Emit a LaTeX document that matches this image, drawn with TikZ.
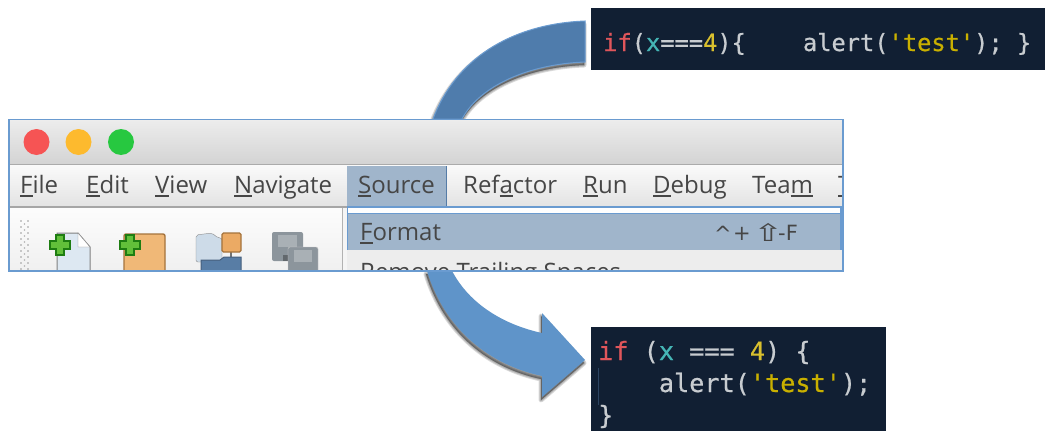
\documentclass[tikz,border=0pt]{standalone}
\usepackage{fontspec}
\setmainfont{Open Sans}
\newfontfamily\mono[RawFeature={embolden=0.6}]{DejaVu Sans Mono}
\newfontfamily\dejavu{DejaVu Sans}
\definecolor{panel}{HTML}{111F33}
\definecolor{cred}{HTML}{E0565B}
\definecolor{ccyan}{HTML}{45B5B5}
\definecolor{cnum}{HTML}{D9C02E}
\definecolor{cstr}{HTML}{C9B000}
\definecolor{cpl}{HTML}{C8CCD0}
\definecolor{edge}{HTML}{6A9BD0}
\definecolor{menuc}{HTML}{464646}
\definecolor{hilite}{HTML}{A0B5CB}
\definecolor{plusfill}{HTML}{62C03A}
\definecolor{plusedge}{HTML}{1E7D12}
\definecolor{floppy}{HTML}{8C959C}
\definecolor{floppyl}{HTML}{A9B0B5}
\newcommand\ulx[1]{\leavevmode\setbox0\hbox{#1}\rlap{\color{menuc}\rule[-4pt]{\wd0}{1.6pt}}\box0}
\newcommand\arrowA{(585,21) .. controls (510,24) and (455,60) .. (433,119) -- (462,119) .. controls (480,85) and (530,64) .. (585,62) -- cycle}
\newcommand\arrowB{(427,271) .. controls (445,330) and (490,365) .. (542,376) -- (542,397) -- (585,360) -- (542,313) -- (542,333) .. controls (505,325) and (470,305) .. (452,271) -- cycle}
\newcommand\softshadow[1]{%
  \foreach \w in {5,3,1}{\fill[black,opacity=.15,draw=black,line width=\w pt,line join=round,xshift=-1pt,yshift=-3pt] #1;}}
\tikzset{
  menuitem/.style={anchor=base west,inner sep=0pt,text=menuc,font=\fontsize{24}{24}\selectfont},
  codeA/.style={anchor=base west,inner sep=0pt,font=\mono\fontsize{23.7}{24}\selectfont,text=cpl},
  codeB/.style={anchor=base west,inner sep=0pt,font=\mono\fontsize{25.2}{26}\selectfont,text=cpl},
  plus/.style={fill=plusfill,draw=plusedge,line width=1.3pt,line join=miter},
  light/.style={circle,inner sep=0pt,minimum size=26pt}
}
\begin{document}
\begin{tikzpicture}[x=1pt,y=-1pt]
\useasboundingbox (0,0) rectangle (1045,431);
\fill[white] (0,0) rectangle (1045,431);
% arrows
\softshadow{\arrowA}
\fill[fill={rgb,255:red,79;green,124;blue,172},draw=edge,line width=1pt] \arrowA;
\softshadow{\arrowB}
\fill[fill={rgb,255:red,95;green,148;blue,201}] \arrowB;
% code panels
\fill[panel] (591,8) rectangle (1045,70);
\node[codeA] (codetop) at (603,51) {\textcolor{cred}{if}(\textcolor{ccyan}{x}===\textcolor{cnum}{4})\{\ \ \ \ alert(\textcolor{cstr}{'test'});\ \}};
\fill[panel] (591,327) rectangle (886,431);
\draw[color=panel!70!edge,line width=.8pt] (598,368) -- (598,405);
\node[codeB] (codeb1) at (598,360) {\textcolor{cred}{if}\ (\textcolor{ccyan}{x}\ ===\ \textcolor{cnum}{4})\ \{};
\node[codeB] (codeb2) at (598,392) {\ \ \ \ alert(\textcolor{cstr}{'test'});};
\node[codeB] (codeb3) at (598,424) {\}};
% window
\begin{scope}
\clip (9,119) rectangle (843,271);
\shade[top color=black!7,bottom color=black!17] (9,119) rectangle (843,164);
\draw[black!33,line width=1pt] (9,164.5) -- (843,164.5);
\shade[top color=black!2,bottom color=black!11] (9,165) rectangle (843,207);
\draw[black!35,line width=1.2pt] (9,207) -- (347,207);
\shade[top color=black!1,bottom color=black!6] (9,208) rectangle (342,271);
\draw[black!30,line width=1pt] (342.5,208) -- (342.5,271);
\fill[white!96!black] (343,208) rectangle (347,271);
\node[light,fill={rgb,255:red,246;green,84;blue,84}] (close) at (36.5,142) {};
\node[light,fill={rgb,255:red,253;green,186;blue,46}] (minim) at (78.5,142) {};
\node[light,fill={rgb,255:red,39;green,200;blue,64}] (zoom) at (121,142) {};
% menu items
\node[menuitem] (mfile) at (20,193) {\ulx{F}ile};
\node[menuitem] (medit) at (86,193) {\ulx{E}dit};
\node[menuitem] (mview) at (155,193) {\ulx{V}iew};
\node[menuitem] (mnav) at (234,193) {\ulx{N}avigate};
\fill[hilite] (347,166) rectangle (446,206);
\draw[edge!80!black,line width=.7pt] (446,166) -- (446,206);
\node[menuitem] (msource) at (358,193) {\ulx{S}ource};
\node[menuitem] (mrefactor) at (463,193) {Ref\ulx{a}ctor};
\node[menuitem] (mrun) at (583,193) {\ulx{R}un};
\node[menuitem] (mdebug) at (653,193) {\ulx{D}ebug};
\node[menuitem] (mteam) at (752,193) {Tea\ulx{m}};
\node[menuitem] (mtools) at (838,193) {\ulx{T}ools};
% dropdown
\fill[white] (347,207) rectangle (843,214);
\fill[black!7] (347,250) rectangle (843,271);
\fill[hilite] (347,214) rectangle (843,250);
\draw[edge,line width=1.2pt] (347,207) -- (843,207);
\draw[edge,line width=1.2pt] (347,213.5) -- (843,213.5);
\draw[edge,line width=1.2pt] (347.5,207) -- (347.5,250);
\draw[edge,line width=1.2pt] (841,207) -- (841,250);
\node[menuitem] (mformat) at (360,240) {\ulx{F}ormat};
\node[menuitem,font=\dejavu\fontsize{21}{21}\selectfont] (mcaret) at (714,241) {\char"005E};
\node[menuitem,font=\dejavu\fontsize{21}{21}\selectfont] (mplus) at (733,240) {+};
\node[menuitem,font=\dejavu\fontsize{24}{24}\selectfont] (marrow) at (753,241) {\scalebox{1.5}[1]{\char"21E7}};
\node[menuitem,font=\dejavu\fontsize{21}{21}\selectfont] (mf) at (778,240) {-F};
\node[menuitem,font=\fontsize{24}{24}\selectfont] (mremove) at (360,280) {Remove Trailing Spaces};
% toolbar grip
\foreach \yy in {221,227,...,269}{
  \fill[black!40] (21,\yy) circle (.9);
  \fill[black!40] (28,\yy) circle (.9);
  \fill[black!30] (24.5,\yy+3) circle (.9);
}
% new file icon
\fill[fill={rgb,255:red,221;green,232;blue,242},draw=black!50,line width=1pt] (57,233) -- (78,233) -- (90,247) -- (90,275) -- (57,275) -- cycle;
\fill[white,draw=black!45] (78,233) -- (78,247) -- (90,247) -- cycle;
\fill[plus] (56,235) -- (64,235) -- (64,241) -- (70,241) -- (70,249) -- (64,249) -- (64,255) -- (56,255) -- (56,249) -- (50,249) -- (50,241) -- (56,241) -- cycle;
% new project icon
\fill[fill={rgb,255:red,240;green,184;blue,119},draw={rgb,255:red,165;green,115;blue,60},line width=1.4pt,rounded corners=2pt] (124,234) -- (165,234) -- (165,275) -- (124,275) -- cycle;
\fill[plus] (126,235) -- (134,235) -- (134,241) -- (140,241) -- (140,249) -- (134,249) -- (134,255) -- (126,255) -- (126,249) -- (120,249) -- (120,241) -- (126,241) -- cycle;
% open project icon
\fill[fill={rgb,255:red,205;green,219;blue,232},draw=black!45,rounded corners=2pt] (196,262) -- (196,235) -- (212,233) -- (218,238) -- (222,238) -- (222,262) -- cycle;
\draw[black!55,line width=1.5pt] (231,250) -- (231,258);
\fill[fill={rgb,255:red,235;green,170;blue,100},draw={rgb,255:red,165;green,115;blue,60},line width=1.2pt,rounded corners=1.5pt] (222,233) rectangle (241,252);
\fill[fill={rgb,255:red,88;green,125;blue,165},draw={rgb,255:red,70;green,95;blue,125},line width=1pt] (201,275) -- (201,260) -- (220,260) -- (224,257) -- (241,257) -- (241,275) -- cycle;
% save all icon
\fill[floppy,rounded corners=2pt] (272,232) rectangle (303,261);
\fill[floppyl] (278,235) rectangle (297,247);
\fill[floppy!70!black] (283,255) rectangle (294,261);
\fill[fill=floppy,draw=white!80!black,rounded corners=2pt] (288,247) rectangle (318,278);
\fill[floppyl] (294,250) rectangle (312,262);
\end{scope}
% window frame
\draw[edge,line width=1.5pt] (9,119.5) rectangle (843,271);
\end{tikzpicture}
\end{document}
